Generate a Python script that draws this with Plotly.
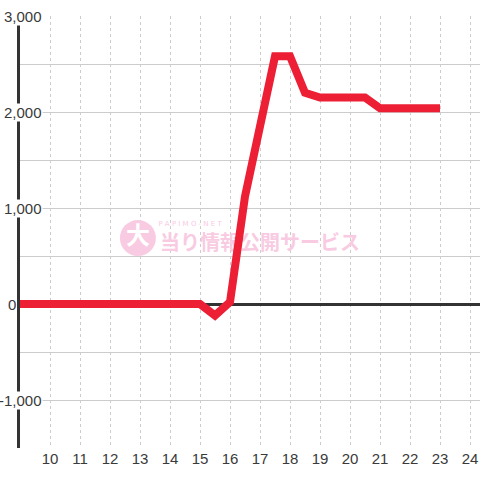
import plotly.graph_objects as go

# ---- data ----
hours = [9.0, 9.5, 10.0, 10.5, 11.0, 11.5, 12.0, 12.5, 13.0, 13.5, 14.0, 14.5, 15.0,
         15.5, 16.0, 16.5, 17.0, 17.5, 18.0, 18.5, 19.0, 19.5, 20.0, 20.5, 21.0,
         21.5, 22.0, 22.5, 23.0]
values = [0, 0, 0, 0, 0, 0, 0, 0, 0, 0, 0, 0, 0,
          -120, 20, 1120, 1850, 2580, 2580, 2200, 2150, 2150, 2150, 2150, 2040,
          2040, 2040, 2040, 2040]
x_ticks = list(range(10, 25))
y_label_vals = [3000, 2000, 1000, 0, -1000]
y_label_text = ["3,000", "2,000", "1,000", "0", "-1,000"]

RED = "#ed1f35"
PINK = "#f9cbe2"
TXT = "#3a3a3a"

fig = go.Figure()

# watermark (drawn under the data line)
fig.add_trace(go.Scatter(x=[12.93], y=[687], mode="markers+text", text=["<b>大</b>"],
                         textposition="middle center",
                         textfont=dict(family="Noto Sans CJK JP", size=24, color="white"),
                         marker=dict(size=36, color=PINK), hoverinfo="skip", showlegend=False))
fig.add_trace(go.Scatter(x=[14.67], y=[835], mode="text", text=["P A P I M O - N E T"],
                         textfont=dict(family="DejaVu Sans", size=7, color=PINK),
                         hoverinfo="skip", showlegend=False))
fig.add_trace(go.Scatter(x=[17.0], y=[610], mode="text", text=["<b>当り情報公開サービス</b>"],
                         textfont=dict(family="Noto Sans CJK JP", size=20, color=PINK),
                         hoverinfo="skip", showlegend=False))

# data line
fig.add_trace(go.Scatter(x=hours, y=values, mode="lines",
                         line=dict(color=RED, width=8), hoverinfo="skip", showlegend=False))

# y labels with white background (cover axis line & grid)
for v, t in zip(y_label_vals, y_label_text):
    if v == 0:
        fig.add_annotation(x=-0.018, xref="paper", y=v, yref="y", text=t, showarrow=False,
                           xanchor="center", font=dict(family="Liberation Sans", size=15, color=TXT),
                           bgcolor="white", borderpad=0)
    else:
        fig.add_annotation(x=0.05, xref="paper", y=v, yref="y", text=t, showarrow=False,
                           xanchor="right", font=dict(family="Liberation Sans", size=15, color=TXT),
                           bgcolor="white", borderpad=0)

fig.update_layout(
    width=480, height=480,
    margin=dict(l=20, r=0, t=16, b=32, autoexpand=False),
    paper_bgcolor="white", plot_bgcolor="white",
    font=dict(family="Liberation Sans", color=TXT),
    xaxis=dict(range=[9, 9 + 460 / 30], tickvals=x_ticks, ticktext=[str(t) for t in x_ticks],
               showgrid=True, gridcolor="#cccccc", gridwidth=1, griddash="3px,3px",
               zeroline=False, showline=False, ticks="", tickfont=dict(size=15, color=TXT),
               automargin=False),
    yaxis=dict(range=[-1500, 3000], dtick=500, showgrid=True, gridcolor="#cccccc", gridwidth=1,
               zeroline=True, zerolinecolor="#333333", zerolinewidth=3,
               showline=True, linecolor="#333333", linewidth=3,
               showticklabels=False, ticks="", automargin=False),
)

fig.write_html("out.html", config={"displayModeBar": False},
               post_script="document.body.style.margin='0';document.body.style.overflow='hidden';")
